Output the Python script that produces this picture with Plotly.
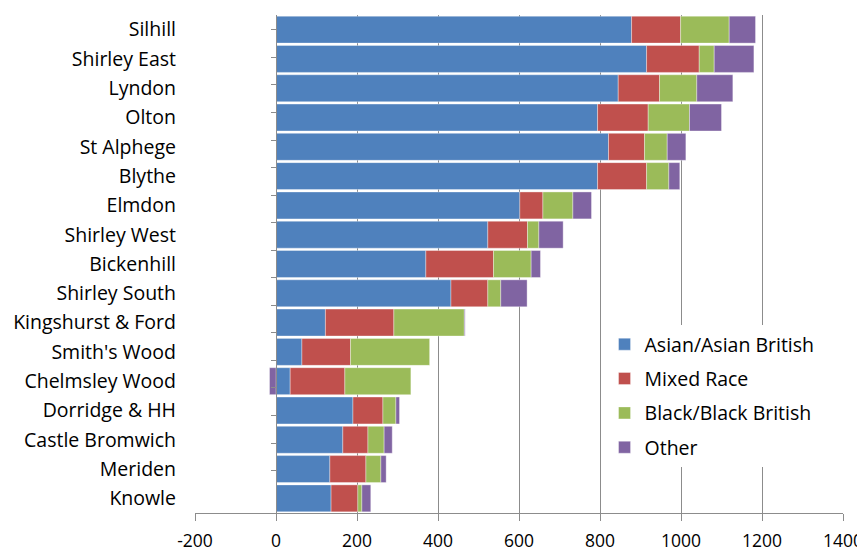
import plotly.graph_objects as go

wards = ["Silhill", "Shirley East", "Lyndon", "Olton", "St Alphege", "Blythe",
         "Elmdon", "Shirley West", "Bickenhill", "Shirley South", "Kingshurst & Ford",
         "Smith's Wood", "Chelmsley Wood", "Dorridge & HH", "Castle Bromwich",
         "Meriden", "Knowle"]
asian = [878, 915, 845, 794, 821, 794, 602, 523, 370, 432, 122, 64, 35, 190, 165, 133, 136]
mixed = [121, 130, 102, 125, 89, 121, 57, 98, 167, 91, 169, 120, 135, 74, 62, 89, 66]
black = [120, 37, 92, 102, 56, 55, 74, 28, 93, 32, 174, 196, 163, 32, 40, 37, 10]
other = [65, 98, 89, 79, 46, 27, 46, 60, 23, 65, 2, 0, -16, 9, 20, 13, 22]

x_ticks = [-200, 0, 200, 400, 600, 800, 1000, 1200, 1400]

series = [
    ("Asian/Asian British", asian, "#4F81BD"),
    ("Mixed Race", mixed, "#C0504D"),
    ("Black/Black British", black, "#9BBB59"),
    ("Other", other, "#8064A2"),
]

FONT = "Open Sans"
FS = 19.5
FS_X = 17.5

fig = go.Figure()
for name, vals, col in series:
    fig.add_trace(go.Bar(
        y=wards, x=vals, name=name, orientation="h",
        marker=dict(color=col, line=dict(color="rgba(255,255,255,0.6)", width=0.6)),
        legendgroup=name,
    ))

# invisible trace to carry the category axis drawn at x = 0
fig.add_trace(go.Scatter(
    x=[0] * len(wards), y=wards, yaxis="y2", mode="markers",
    marker=dict(opacity=0), showlegend=False, hoverinfo="skip",
))

fig.update_layout(
    width=865, height=552,
    margin=dict(l=187, r=30, t=7, b=47, autoexpand=False),
    paper_bgcolor="white", plot_bgcolor="white",
    barmode="relative", bargap=0.08,
    font=dict(family=FONT, size=FS, color="#000000"),
    xaxis=dict(
        range=[-200, 1400], tickvals=x_ticks, ticktext=[str(v) for v in x_ticks],
        showgrid=True, gridcolor="#8C8C8C", gridwidth=1,
        showline=True, linecolor="#8C8C8C", linewidth=1,
        ticks="outside", ticklen=7, tickcolor="#8C8C8C",
        ticklabelstandoff=5,
        zeroline=False, automargin=False, tickfont=dict(family=FONT, size=FS_X),
    ),
    yaxis=dict(
        type="category", categoryorder="array", categoryarray=wards,
        autorange="reversed", showgrid=False, showline=False, ticks="",
        automargin=False,
        ticklabelstandoff=18, tickfont=dict(family=FONT, size=FS),
    ),
    yaxis2=dict(
        type="category", categoryorder="array", categoryarray=wards,
        autorange="reversed", overlaying="y", anchor="free",
        position=(0 - (-200)) / 1600, side="left", automargin=False,
        showline=True, linecolor="#8C8C8C", linewidth=1,
        ticks="outside", ticklen=5, tickcolor="#8C8C8C", tickson="boundaries",
        showticklabels=False, showgrid=False, zeroline=False,
    ),
    legend=dict(
        x=0.632, y=0.3775, xanchor="left", yanchor="top",
        bgcolor="white", borderwidth=0, traceorder="grouped",
        tracegroupgap=6, font=dict(family=FONT, size=FS),
    ),
)

fig.write_html("out.html")
